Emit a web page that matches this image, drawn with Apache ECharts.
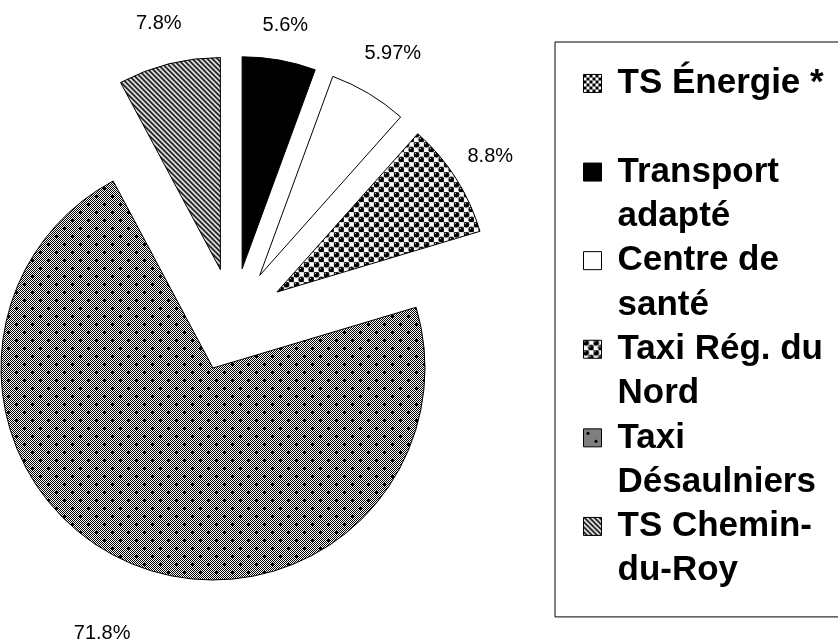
<!DOCTYPE html>
<html>
<head>
  <meta charset="UTF-8">
  <title>Répartition</title>
  <script src="https://cdn.jsdelivr.net/npm/echarts@6/dist/echarts.min.js"></script>
  <style>
    html, body { margin: 0; padding: 0; background: #fff; }
    #main { width: 838px; height: 640px; }
  </style>
</head>
<body>
  <div id="main"></div>
  <script>
    // donnees
    var names = ['TS Énergie *', 'Transport adapté', 'Centre de santé', 'Taxi Rég. du Nord', 'Taxi Désaulniers', 'TS Chemin-du-Roy'];
    var values = [0, 5.6, 5.97, 8.8, 71.8, 7.8];
    var legendLabels = ['TS Énergie *\n ', 'Transport\nadapté', 'Centre de\nsanté', 'Taxi Rég. du\nNord', 'Taxi\nDésaulniers', 'TS Chemin-\ndu-Roy'];

    // motifs de remplissage (style Excel)
    function pattern(w, h, draw) {
      var c = document.createElement('canvas');
      c.width = w; c.height = h;
      var ctx = c.getContext('2d');
      ctx.fillStyle = '#fff';
      ctx.fillRect(0, 0, w, h);
      draw(ctx);
      return { image: c, repeat: 'repeat' };
    }

    var checker = pattern(6, 6, function (ctx) {
      ctx.fillStyle = '#000';
      ctx.fillRect(0, 0, 3, 3);
      ctx.fillRect(3, 3, 3, 3);
    });

    var balls = pattern(10, 10, function (ctx) {
      [[2.5, 2.5], [7.5, 7.5]].forEach(function (p) {
        ctx.fillStyle = '#000';
        ctx.beginPath();
        ctx.arc(p[0], p[1], 3, 0, Math.PI * 2);
        ctx.fill();
        ctx.fillStyle = '#fff';
        ctx.fillRect(p[0] - 1.5, p[1] - 1.5, 1, 1);
      });
    });

    var dotted = pattern(16, 16, function (ctx) {
      ctx.fillStyle = '#000';
      for (var y = 0; y < 16; y++) {
        for (var x = 0; x < 16; x++) {
          if ((x + y) % 2 === 0) ctx.fillRect(x, y, 1, 1);
        }
      }
      [[4, 4], [12, 12]].forEach(function (p) {
        ctx.fillRect(p[0] - 1, p[1], 3, 1);
        ctx.fillRect(p[0], p[1] - 1, 1, 3);
      });
    });

    var stripes = pattern(5, 5, function (ctx) {
      for (var y = 0; y < 5; y++) {
        for (var x = 0; x < 5; x++) {
          var k = ((x - y) % 5 + 5) % 5;
          if (k < 2) { ctx.fillStyle = '#000'; ctx.fillRect(x, y, 1, 1); }
          else if (k === 2) { ctx.fillStyle = '#888'; ctx.fillRect(x, y, 1, 1); }
        }
      }
    });

    var fills = [checker, '#000', '#fff', balls, dotted, stripes];
    var labelLen = [40, 35, 47, 41, 76, 42];

    var data = names.map(function (n, i) {
      return {
        name: n,
        value: values[i],
        selected: true,
        itemStyle: { color: fills[i], borderWidth: values[i] > 0 ? 1 : 0 },
        label: { show: values[i] > 0 },
        labelLine: { length: labelLen[i] }
      };
    });

    var myChart = echarts.init(document.getElementById('main'));
    var option = {
      animation: false,
      backgroundColor: '#fff',
      legend: {
        orient: 'vertical',
        left: 555,
        top: 42,
        height: 900,
        // ligne vide en tete : le carre s'aligne sur la 1re ligne du libelle
        padding: [-25, 40, 24, 28],
        itemGap: -44.3,
        itemWidth: 18,
        itemHeight: 18,
        icon: 'rect',
        borderColor: '#000',
        borderWidth: 1,
        selectedMode: false,
        itemStyle: { borderColor: '#000', borderWidth: 1 },
        data: names,
        formatter: function (name) {
          return ' \n' + legendLabels[names.indexOf(name)];
        },
        textStyle: {
          fontFamily: 'Liberation Sans, Arial, sans-serif',
          fontWeight: 'bold',
          fontSize: 35,
          lineHeight: 44.3,
          color: '#000',
          padding: [0, 0, 0, 11]
        }
      },
      series: [{
        type: 'pie',
        center: [233, 320],
        radius: 212,
        startAngle: 90,
        clockwise: true,
        selectedMode: 'multiple',
        selectedOffset: 52,
        avoidLabelOverlap: false,
        emphasis: { disabled: true },
        itemStyle: { borderColor: '#000', borderWidth: 1 },
        label: {
          position: 'outside',
          formatter: '{c}%',
          fontFamily: 'Liberation Sans, Arial, sans-serif',
          fontSize: 20,
          color: '#000',
          distanceToLabelLine: 0
        },
        labelLine: { show: false, length2: 0 },
        labelLayout: function () {
          return { align: 'center', verticalAlign: 'middle' };
        },
        data: data
      }]
    };
    myChart.setOption(option);
  </script>
</body>
</html>
